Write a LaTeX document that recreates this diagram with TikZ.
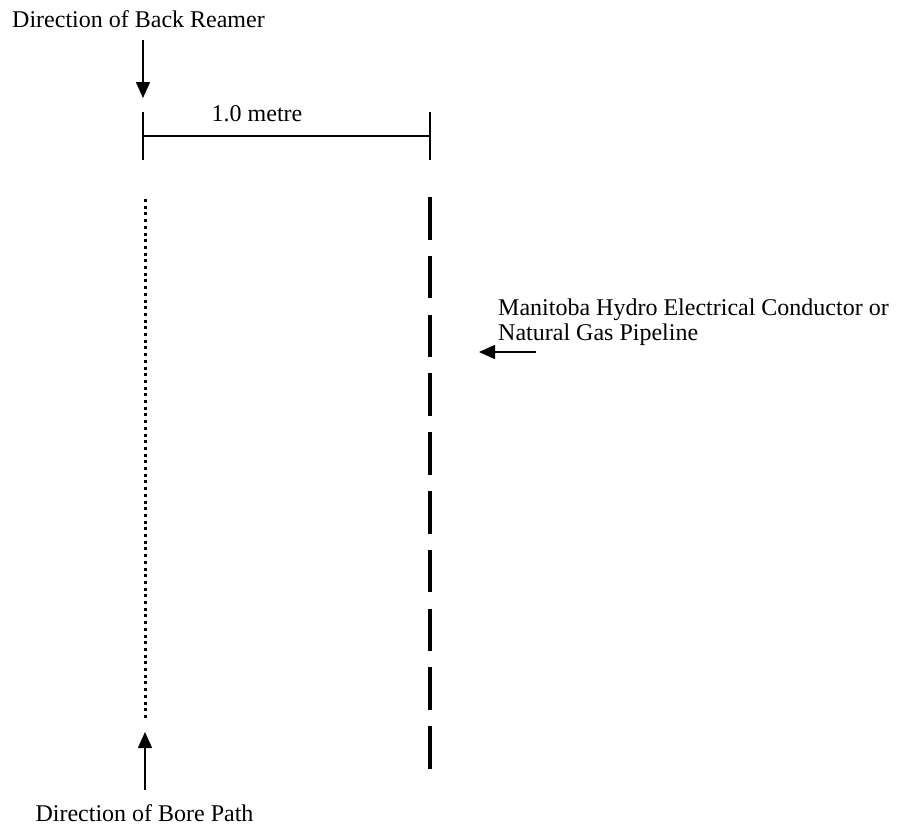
\documentclass[tikz,border=0pt]{standalone}
\usepackage{fontspec}
\setmainfont{Liberation Serif}
\usetikzlibrary{arrows.meta, positioning}
\tikzset{
  label/.style={font=\fontsize{24}{25.5}\selectfont, inner sep=0pt},
  arrow/.style={-{Triangle[length=16pt, width=14pt]}, line width=1.5pt},
  dimline/.style={line width=1.5pt},
  borepath/.style={line width=3pt, dash pattern=on 3pt off 3.7pt},
  utility/.style={line width=4.5pt, dash pattern=on 42.5pt off 16.3pt},
}

\begin{document}
\begin{tikzpicture}[x=1pt, y=-1pt]
\useasboundingbox (0,0) rectangle (904,830);
% labels
\node[label] (reamer) at (138.5,19) {Direction of Back Reamer};
\node[label] (bore) at (144.5,813) {Direction of Bore Path};
\node[label] (metre) at (257,114) {1.0 metre};
\node[label, anchor=west, align=left] (hydro) at (498,322)
  {Manitoba Hydro Electrical Conductor or\\Natural Gas Pipeline};
% end points
\coordinate (rtop) at (143,40);
\coordinate (rtip) at (143,98);
\coordinate (btail) at (145,790);
\coordinate (btip) at (145,732);
\coordinate (htail) at (536,352);
\coordinate (htip) at (479,352);
\coordinate (dimL) at (143,136);
\coordinate (dimR) at (430,136);
\coordinate (pathtop) at (145,199);
\coordinate (pathbot) at (145,720);
\coordinate (pipetop) at (430,197);
\coordinate (pipebot) at (430,770);
% arrows
\draw[arrow] (rtop) -- (rtip);
\draw[arrow] (btail) -- (btip);
\draw[arrow] (htail) -- (htip);
% dimension
\draw[dimline] (dimL) -- (dimR);
\draw[dimline] ([yshift=-24pt]dimL) -- ([yshift=24pt]dimL);
\draw[dimline] ([yshift=-24pt]dimR) -- ([yshift=24pt]dimR);
% bore path and pipeline
\draw[borepath] (pathtop) -- (pathbot);
\draw[utility] (pipetop) -- (pipebot);
\end{tikzpicture}
\end{document}
